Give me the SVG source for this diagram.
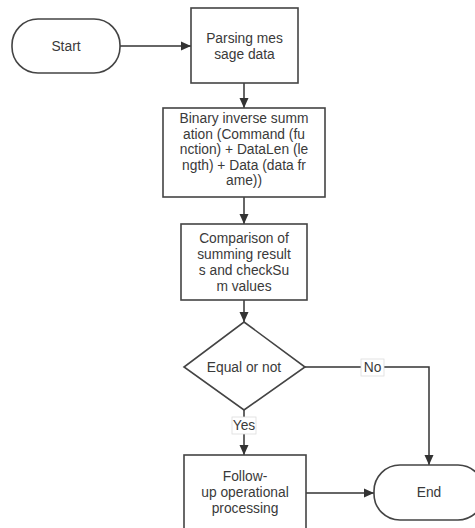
<svg xmlns="http://www.w3.org/2000/svg" width="475" height="528" viewBox="0 0 475 528">
<style>
.shape{fill:#fff;stroke:#444;stroke-width:1.6}
.t{font-family:"Liberation Sans",Arial,sans-serif;font-size:13.8px;fill:#3a3a3a;text-anchor:middle;dominant-baseline:central}
.edge{fill:none;stroke:#333;stroke-width:1.5}
.lbl{fill:#fff;stroke:#ddd;stroke-width:0.8}
</style>
<defs>
<marker id="arr" viewBox="0 0 10 10" refX="10" refY="5" markerWidth="10" markerHeight="10" markerUnits="userSpaceOnUse" orient="auto">
<path d="M0,0.5 L10,5 L0,9.5 Z" fill="#333"/>
</marker>
</defs>
<rect width="475" height="528" fill="#fff"/>
<g id="connectors">
<path class="edge" d="M120,46 L191,46" marker-end="url(#arr)"/>
<path class="edge" d="M244,83 L244,108" marker-end="url(#arr)"/>
<path class="edge" d="M244,197 L244,224" marker-end="url(#arr)"/>
<path class="edge" d="M244,300 L244,322" marker-end="url(#arr)"/>
<path class="edge" d="M244,410 L244,455" marker-end="url(#arr)"/>
<path class="edge" d="M305,367 L429,367 L429,465" marker-end="url(#arr)"/>
<path class="edge" d="M306,493 L374,493" marker-end="url(#arr)"/>
<g id="label-yes">
<rect class="lbl" x="232" y="417" width="24" height="17"/>
<text class="t" x="244" y="425.5">Yes</text>
</g>
<g id="label-no">
<rect class="lbl" x="361" y="359" width="23" height="17"/>
<text class="t" x="372.5" y="367.5">No</text>
</g>
</g>
<g id="start">
<rect class="shape" x="12" y="19" width="108" height="54" rx="26" ry="26"/>
<text class="t" x="66" y="46">Start</text>
</g>
<g id="parse">
<rect class="shape" x="191" y="8" width="107" height="75"/>
<text class="t" x="244.5" y="38.5">Parsing mes</text>
<text class="t" x="244.5" y="54.5">sage data</text>
</g>
<g id="sum">
<rect class="shape" x="163" y="108" width="162" height="89"/>
<text class="t" x="244" y="118.5">Binary inverse summ</text>
<text class="t" x="244" y="134.1">ation (Command (fu</text>
<text class="t" x="244" y="149.7">nction) + DataLen (le</text>
<text class="t" x="244" y="165.3">ngth) + Data (data fr</text>
<text class="t" x="244" y="180.9">ame))</text>
</g>
<g id="compare">
<rect class="shape" x="181" y="224" width="126" height="76"/>
<text class="t" x="244" y="238">Comparison of</text>
<text class="t" x="244" y="254">summing result</text>
<text class="t" x="244" y="270">s and checkSu</text>
<text class="t" x="244" y="286">m values</text>
</g>
<g id="decision">
<polygon class="shape" points="244,322 305,367 244,410 184,367"/>
<text class="t" x="244" y="367">Equal or not</text>
</g>
<g id="follow">
<rect class="shape" x="184" y="455" width="122" height="78"/>
<text class="t" x="245" y="476">Follow-</text>
<text class="t" x="245" y="492">up operational</text>
<text class="t" x="245" y="508">processing</text>
</g>
<g id="end">
<rect class="shape" x="374" y="465" width="110" height="55" rx="26" ry="26"/>
<text class="t" x="429" y="492.5">End</text>
</g>
</svg>
